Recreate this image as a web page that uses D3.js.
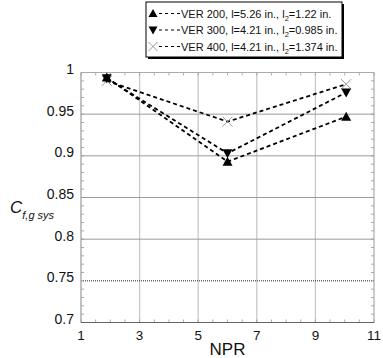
<!DOCTYPE html>
<html>
<head>
<meta charset="utf-8">
<script src="https://cdn.jsdelivr.net/npm/d3@7"></script>
<style>
  body { margin: 0; background: #fff; }
  svg { display: block; font-family: "Liberation Sans", Arial, sans-serif; }
</style>
</head>
<body>
<svg id="chart" width="383" height="358"></svg>
<script>
// Nozzle pressure ratio values for each configuration
const npr = [1.88, 6, 10.05];
const ver200 = [0.994, 0.893, 0.947];
const ver300 = [0.993, 0.903, 0.976];
const ver400 = [0.990, 0.941, 0.986];

const seriesNames = ["VER 200", "VER 300", "VER 400"];
const seriesL = ["5.26", "4.21", "4.21"];
const seriesL2 = ["1.22", "0.985", "1.374"];
const seriesMarkers = ["up", "down", "cross"];

const xTicks = [1, 3, 5, 7, 9, 11];
const yTicks = [0.7, 0.75, 0.8, 0.85, 0.9, 0.95, 1];
const refLine = 0.75;

const svg = d3.select("#chart");
const pLeft = 81, pRight = 374, pTop = 72.5, pBottom = 322.5;

const x = d3.scaleLinear().domain([1, 11]).range([pLeft, pRight]);
const y = d3.scaleLinear().domain([0.7, 1]).range([pBottom, pTop]);

// vertical grid
svg.append("g").selectAll("line")
  .data(xTicks.slice(1, -1)).join("line")
  .attr("x1", d => x(d)).attr("x2", d => x(d))
  .attr("y1", pTop).attr("y2", pBottom)
  .attr("stroke", "#c8c8c8").attr("stroke-width", 1.3);

// horizontal grid
svg.append("g").selectAll("line")
  .data(yTicks.slice(1, -1).filter(d => d !== refLine)).join("line")
  .attr("x1", pLeft).attr("x2", pRight)
  .attr("y1", d => y(d)).attr("y2", d => y(d))
  .attr("stroke", "#9a9a9a").attr("stroke-width", 1);

// reference line at 0.75
svg.append("line")
  .attr("x1", pLeft).attr("x2", pRight)
  .attr("y1", y(refLine)).attr("y2", y(refLine))
  .attr("stroke", "#222").attr("stroke-width", 1)
  .attr("stroke-dasharray", "1,1");

// minor ticks (inward)
const xMinor = d3.range(1, 11.01, 0.5);
const yMinor = d3.range(0.7, 1.0001, 0.01);
const ticks = svg.append("g").attr("stroke", "#999").attr("stroke-width", 0.8);
ticks.selectAll(".xb").data(xMinor).join("line")
  .attr("x1", d => x(d)).attr("x2", d => x(d))
  .attr("y1", pBottom).attr("y2", pBottom - 3);
ticks.selectAll(".xt").data(xMinor).join("line")
  .attr("x1", d => x(d)).attr("x2", d => x(d))
  .attr("y1", pTop).attr("y2", pTop + 3);
ticks.selectAll(".yl").data(yMinor).join("line")
  .attr("x1", pLeft).attr("x2", pLeft + 3)
  .attr("y1", d => y(d)).attr("y2", d => y(d));
ticks.selectAll(".yr").data(yMinor).join("line")
  .attr("x1", pRight).attr("x2", pRight - 3)
  .attr("y1", d => y(d)).attr("y2", d => y(d));

// frame
svg.append("line").attr("x1", pLeft).attr("x2", pRight).attr("y1", pTop).attr("y2", pTop)
  .attr("stroke", "#aaa").attr("stroke-width", 1);
svg.append("line").attr("x1", pRight).attr("x2", pRight).attr("y1", pTop).attr("y2", pBottom)
  .attr("stroke", "#999").attr("stroke-width", 1);
svg.append("line").attr("x1", pLeft).attr("x2", pLeft).attr("y1", pTop).attr("y2", pBottom)
  .attr("stroke", "#999").attr("stroke-width", 1.2);
svg.append("line").attr("x1", pLeft).attr("x2", pRight).attr("y1", pBottom).attr("y2", pBottom)
  .attr("stroke", "#666").attr("stroke-width", 1.2);

// axis labels
svg.append("g").selectAll("text").data(xTicks).join("text")
  .attr("x", d => x(d)).attr("y", pBottom + 17)
  .attr("text-anchor", "middle").attr("font-size", 13.5).attr("fill", "#111")
  .text(d => d);
svg.append("g").selectAll("text").data(yTicks).join("text")
  .attr("x", pLeft - 7).attr("y", d => y(d)).attr("dy", "0.1em")
  .attr("text-anchor", "end").attr("font-size", 14).attr("fill", "#111")
  .text(d => d);

svg.append("text").attr("x", (pLeft + pRight) / 2).attr("y", 355)
  .attr("text-anchor", "middle").attr("font-size", 17).attr("fill", "#111")
  .text("NPR");

const yt = svg.append("text").attr("x", 10).attr("y", 213)
  .attr("font-style", "italic").attr("fill", "#111");
yt.append("tspan").attr("font-size", 17).text("C");
yt.append("tspan").attr("font-size", 11).attr("dy", 6).text("f,g sys");

// series
const seriesVals = [ver200, ver300, ver400];
const series = seriesVals.map((vals, i) => ({
  name: seriesNames[i], marker: seriesMarkers[i],
  pts: vals.map((v, j) => ({ x: npr[j], y: v }))
}));

const line = d3.line().x(d => x(d.x)).y(d => y(d.y));

function drawMarker(g, type, cx, cy, r = 5) {
  if (type === "up") {
    g.append("path").attr("d", `M${cx},${cy - r}L${cx + r},${cy + r * 0.8}L${cx - r},${cy + r * 0.8}Z`).attr("fill", "#000");
  } else if (type === "down") {
    g.append("path").attr("d", `M${cx},${cy + r}L${cx + r},${cy - r * 0.8}L${cx - r},${cy - r * 0.8}Z`).attr("fill", "#000");
  } else {
    g.append("path").attr("d", `M${cx - r},${cy - r}L${cx + r},${cy + r}M${cx - r},${cy + r}L${cx + r},${cy - r}`)
      .attr("stroke", "#999").attr("stroke-width", 1).attr("fill", "none");
  }
}

series.forEach(s => {
  svg.append("path").datum(s.pts).attr("d", line)
    .attr("fill", "none").attr("stroke", "#000").attr("stroke-width", 1.8)
    .attr("stroke-dasharray", "4,3");
});
series.slice().reverse().forEach(s => {
  const g = svg.append("g");
  s.pts.forEach(p => drawMarker(g, s.marker, x(p.x), y(p.y)));
});

// legend
const lg = svg.append("g");
const lx = 146, ly = 2, lw = 196, lh = 55;
lg.append("rect").attr("x", lx + 2).attr("y", ly + 2).attr("width", lw).attr("height", lh).attr("fill", "#000");
lg.append("rect").attr("x", lx).attr("y", ly).attr("width", lw).attr("height", lh)
  .attr("fill", "#fff").attr("stroke", "#000").attr("stroke-width", 1);
series.forEach((s, i) => {
  const cy = 13.5 + i * 16.5;
  drawMarker(lg, s.marker, lx + 7, cy, 4.5);
  lg.append("line").attr("x1", lx + 13).attr("x2", lx + 34).attr("y1", cy).attr("y2", cy)
    .attr("stroke", "#000").attr("stroke-width", 1.2).attr("stroke-dasharray", "3,3");
  const t = lg.append("text").attr("x", lx + 35).attr("y", cy + 4)
    .attr("font-size", 11).attr("fill", "#111");
  t.append("tspan").text(`${s.name}, l=${seriesL[i]} in., l`);
  t.append("tspan").attr("font-size", 7.5).attr("dy", 3).text("2");
  t.append("tspan").attr("dy", -3).text(`=${seriesL2[i]} in.`);
});
</script>
</body>
</html>
